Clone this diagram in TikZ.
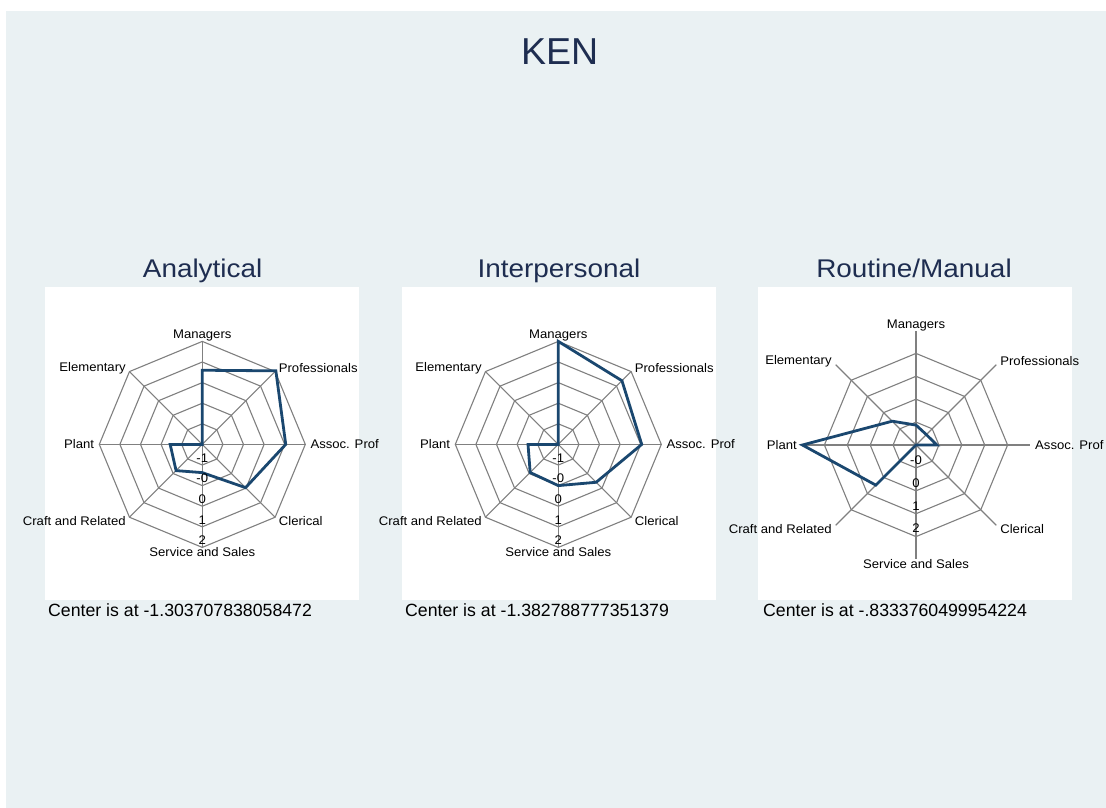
\documentclass[tikz,border=0pt]{standalone}
\usepackage{fontspec}
\setmainfont{Liberation Sans}
\newfontfamily\lblfont[FakeStretch=1.05]{Liberation Sans}
\newfontfamily\subfont[FakeStretch=1.09]{Liberation Sans}
\definecolor{bgcol}{RGB}{234,241,243}
\definecolor{titcol}{RGB}{30,45,80}
\definecolor{navyline}{RGB}{26,71,111}
\definecolor{gridcol}{RGB}{128,128,128}
\tikzset{
  grid line/.style={draw=gridcol, line width=1.1pt},
  data line/.style={draw=navyline, line width=2.8pt, line join=miter},
  axis label/.style={font=\lblfont\fontsize{12.5}{13}\selectfont, inner sep=0pt, text=black},
  tick label/.style={font=\lblfont\fontsize{12.5}{13}\selectfont, inner sep=0pt, text=black},
  subtitle/.style={font=\subfont\fontsize{25.6}{28}\selectfont, text=titcol, anchor=base, inner sep=0pt},
  main title/.style={font=\fontsize{37.5}{40}\selectfont, text=titcol, anchor=base, inner sep=0pt},
  center note/.style={font=\fontsize{17.7}{20}\selectfont, anchor=base west, inner sep=0pt, text=black},
}
% #1 name, #2 ring spacing, #3 ring count, #4 axis length, #5 label radius, #6 data (ring units)
\newcommand{\radarchart}[6]{%
  \foreach \k in {1,...,#3}{%
    \draw[grid line] (0:\k*#2) -- (45:\k*#2) -- (90:\k*#2) -- (135:\k*#2) -- (180:\k*#2) -- (225:\k*#2) -- (270:\k*#2) -- (315:\k*#2) -- cycle;}
  \foreach \a in {0,45,...,315} \draw[grid line] (0,0) -- (\a:#4);
  \foreach \v [count=\i from 0] in {#6} \coordinate (#1p\i) at ({90-45*\i}:{\v*#2});
  \draw[data line] (#1p0) -- (#1p1) -- (#1p2) -- (#1p3) -- (#1p4) -- (#1p5) -- (#1p6) -- (#1p7) -- cycle;
  \node[axis label] (#1man) at ({90}:{#5+1}) {Managers};
  \node[axis label, anchor=west] (#1pro) at (45:#5) {Professionals};
  \node[axis label, anchor=west] (#1aso) at (0:#5) {Assoc. Prof};
  \node[axis label, anchor=west] (#1cle) at (-45:#5) {Clerical};
  \node[axis label] (#1ser) at (-90:#5) {Service and Sales};
  \node[axis label, anchor=east] (#1cra) at (-135:#5) {Craft and Related};
  \node[axis label, anchor=east] (#1pla) at (180:#5) {Plant};
  \node[axis label, anchor=east] (#1ele) at (135:#5) {Elementary};
}
\begin{document}
\begin{tikzpicture}[x=1pt,y=1pt]
\useasboundingbox (0,0) rectangle (1106,-808);
\fill[white] (0,0) rectangle (1106,-808);
\fill[bgcol] (6,-11) rectangle (1106,-808);
\node[main title] (title) at (559.7,-64.3) {KEN};
% panels
\fill[white] (45,-287) rectangle (359,-600);
\fill[white] (402,-287) rectangle (716,-600);
\fill[white] (758,-287) rectangle (1072,-600);
% subtitles
\node[subtitle] (s1) at (202.6,-277) {Analytical};
\node[subtitle] (s2) at (559,-277) {Interpersonal};
\node[subtitle] (s3) at (914,-277) {Routine/Manual};
% chart 1
\begin{scope}[shift={(202.3,-444.4)}]
  \radarchart{a}{20.6}{5}{103}{108}{3.6,5.05,4.05,2.97,1.37,1.8,1.56,0}
  \foreach \t [count=\k] in {-1,-0,0,1,2} \node[tick label] (at\k) at (0,{-\k*20.6+7}) {\t};
\end{scope}
% chart 2
\begin{scope}[shift={(558.3,-444.4)}]
  \radarchart{b}{20.6}{5}{103}{108}{5,4.37,4.05,2.6,2.0,1.93,1.47,0}
  \foreach \t [count=\k] in {-1,-0,0,1,2} \node[tick label] (bt\k) at (0,{-\k*20.6+7}) {\t};
\end{scope}
% chart 3
\begin{scope}[shift={(916,-445)}]
  \radarchart{c}{22.9}{4}{113.6}{119}{0.87,0.64,0.91,0,0,2.48,4.96,1.47}
  \foreach \t [count=\k] in {-0,0,1,2} \node[tick label] (ct\k) at (0,{-\k*22.9+8}) {\t};
\end{scope}
% notes
\node[center note] (n1) at (48,-616.7) {Center is at -1.303707838058472};
\node[center note] (n2) at (405,-616.7) {Center is at -1.382788777351379};
\node[center note] (n3) at (763,-616.7) {Center is at -.8333760499954224};
\end{tikzpicture}
\end{document}
